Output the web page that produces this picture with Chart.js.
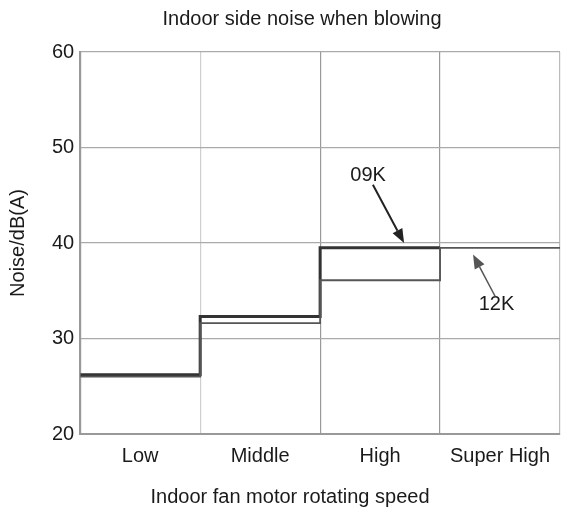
<!DOCTYPE html>
<html>
<head>
<meta charset="utf-8">
<script src="https://cdn.jsdelivr.net/npm/chart.js@4/dist/chart.umd.min.js"></script>
<style>
  html, body { margin: 0; padding: 0; background: #fff; }
  #wrap { width: 561px; height: 517px; position: relative; }
</style>
</head>
<body>
<div id="wrap"><canvas id="chart"></canvas></div>
<script>
// chart data
const categories = ["Low", "Middle", "High", "Super High"];
const noise09K = [26.2, 32.3, 39.5];
const noise12K = [26.0, 31.6, 36.1, 39.5];
const yTicks = [20, 30, 40, 50, 60];

const titleText = "Indoor side noise when blowing";
const xTitleText = "Indoor fan motor rotating speed";
const yTitleText = "Noise/dB(A)";

// callouts: label spot and arrow (from -> tip), in data units
const callouts = [
  { text: "09K", label: [2.4, 47.1], from: [2.44, 46.1], to: [2.7, 40.0], color: "#222", width: 2 },
  { text: "12K", label: [3.47, 33.6], from: [3.46, 34.4], to: [3.275, 38.8], color: "#555", width: 1.5 },
];

const FONT = "'Liberation Sans', Arial, sans-serif";
Chart.defaults.font.family = FONT;
Chart.defaults.color = "#1a1a1a";

//step line points: each level holds across its whole category
const stepPoints = function (values) {
  const pts = values.map((v, i) => ({ x: i, y: v }));
  pts.push({ x: values.length, y: values[values.length - 1] });
  return pts;
};

//x gridline colours (boundaries between categories)
const xGridColors = ["#999", "#cfcfcf", "#999", "#999", "#bbb"];

//draw titles and the two arrows
const extrasPlugin = {
  id: "extras",
  afterDraw(chart) {
    const { ctx, scales } = chart;
    const xs = scales.x;
    const ys = scales.y;
    ctx.save();
    ctx.fillStyle = "#1a1a1a";
    ctx.font = "20px " + FONT;
    ctx.textAlign = "center";
    ctx.textBaseline = "middle";
    ctx.fillText(titleText, 302, 19);
    ctx.fillText(xTitleText, 290, 497);

    callouts.forEach((c) => {
      ctx.fillStyle = "#1a1a1a";
      ctx.fillText(c.text, xs.getPixelForValue(c.label[0]), ys.getPixelForValue(c.label[1]));
      const x1 = xs.getPixelForValue(c.from[0]);
      const y1 = ys.getPixelForValue(c.from[1]);
      const x2 = xs.getPixelForValue(c.to[0]);
      const y2 = ys.getPixelForValue(c.to[1]);
      const ang = Math.atan2(y2 - y1, x2 - x1);
      const headLen = 14;
      const headW = 5.5;
      const bx = x2 - headLen * Math.cos(ang);
      const by = y2 - headLen * Math.sin(ang);
      ctx.strokeStyle = c.color;
      ctx.lineWidth = c.width;
      ctx.beginPath();
      ctx.moveTo(x1, y1);
      ctx.lineTo(bx, by);
      ctx.stroke();
      ctx.fillStyle = c.color;
      ctx.beginPath();
      ctx.moveTo(x2, y2);
      ctx.lineTo(bx + headW * Math.sin(ang), by - headW * Math.cos(ang));
      ctx.lineTo(bx - headW * Math.sin(ang), by + headW * Math.cos(ang));
      ctx.closePath();
      ctx.fill();
    });
    ctx.restore();
  },
};

new Chart(document.getElementById("chart"), {
  type: "line",
  data: {
    datasets: [
      {
        label: "12K",
        data: stepPoints(noise12K),
        stepped: "before",
        borderColor: "#555",
        borderWidth: 1.8,
        pointRadius: 0,
        fill: false,
      },
      {
        label: "09K",
        data: stepPoints(noise09K),
        stepped: "before",
        borderColor: "#333",
        borderWidth: 3,
        pointRadius: 0,
        fill: false,
      },
    ],
  },
  options: {
    responsive: true,
    maintainAspectRatio: false,
    animation: false,
    layout: { padding: { top: 52, right: 1, bottom: 39, left: 0 } },
    plugins: {
      legend: { display: false },
      tooltip: { enabled: false },
    },
    scales: {
      x: {
        type: "linear",
        min: 0,
        max: categories.length,
        afterBuildTicks: (scale) => {
          const t = [];
          for (let i = 0; i <= categories.length; i++) {
            t.push({ value: i });
            if (i < categories.length) t.push({ value: i + 0.5 });
          }
          scale.ticks = t;
        },
        afterFit: (scale) => {
          scale.paddingLeft = 0;
          scale.paddingRight = 0;
        },
        ticks: {
          autoSkip: false,
          maxRotation: 0,
          padding: 10,
          font: { size: 20 },
          color: "#1a1a1a",
          callback: (v) => (v % 1 ? categories[Math.floor(v)] : ""),
        },
        grid: {
          drawTicks: false,
          lineWidth: 1.2,
          color: (ctx) => {
            const v = ctx.tick ? ctx.tick.value : 0;
            return v % 1 ? "rgba(0,0,0,0)" : xGridColors[v];
          },
        },
        border: { display: true, color: "#999", width: 2 },
      },
      y: {
        min: yTicks[0],
        max: yTicks[yTicks.length - 1],
        afterBuildTicks: (scale) => {
          scale.ticks = yTicks.map((v) => ({ value: v }));
        },
        ticks: {
          padding: 6,
          font: { size: 20 },
          color: "#1a1a1a",
        },
        grid: { drawTicks: false, color: "#aaa", lineWidth: 1.2 },
        border: { display: true, color: "#999", width: 2 },
        title: {
          display: true,
          text: yTitleText,
          font: { size: 20 },
          color: "#1a1a1a",
          padding: { top: 6, bottom: 16 },
        },
      },
    },
  },
  plugins: [extrasPlugin],
});
</script>
</body>
</html>
